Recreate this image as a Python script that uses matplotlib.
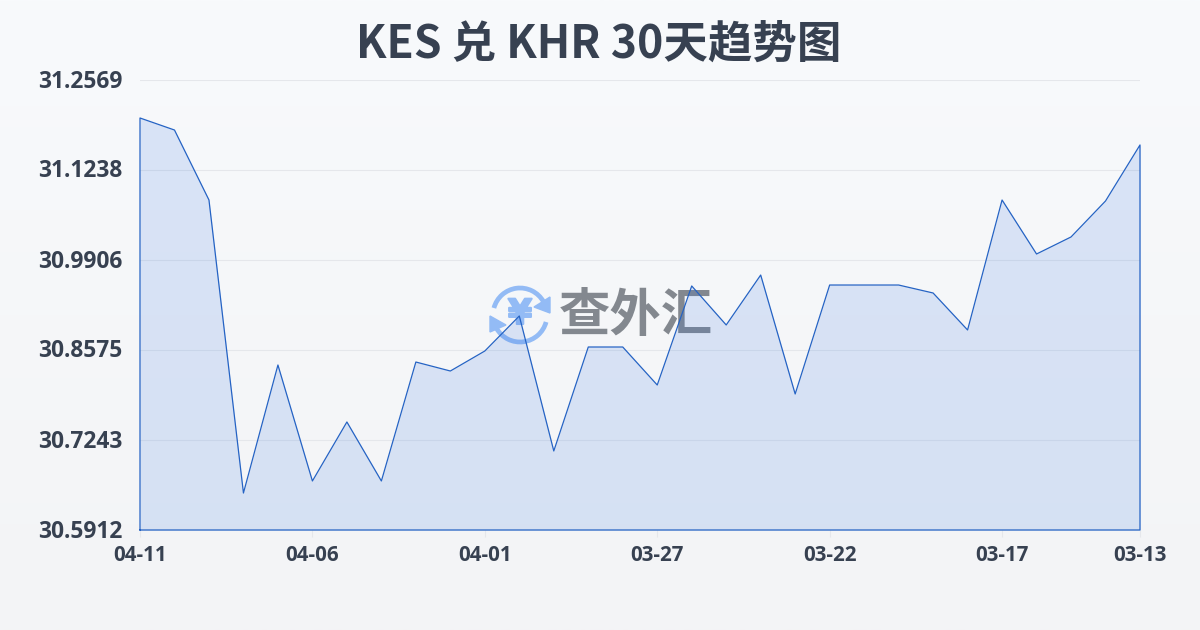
import numpy as np
import matplotlib
matplotlib.use('Agg')
from matplotlib import pyplot as plt
from matplotlib.patches import Arc, Polygon
from matplotlib.transforms import ScaledTranslation
import matplotlib.patheffects as pe

plt.rcParams['font.family'] = ['Noto Sans CJK SC', 'DejaVu Sans']

title = 'KES 兑 KHR 30天趋势图'
values = [31.2007, 31.1829, 31.0794, 30.6459, 30.8353, 30.6637, 30.7510, 30.6637,
          30.8397, 30.8264, 30.8560, 30.9078, 30.7081, 30.8619, 30.8619, 30.8057,
          30.9522, 30.8945, 30.9684, 30.7924, 30.9536, 30.9536, 30.9536, 30.9418,
          30.8871, 31.0794, 30.9995, 31.0247, 31.0779, 31.1608]
y_ticks = [30.5912, 30.7243, 30.8575, 30.9906, 31.1238, 31.2569]
x_ticks = [0, 5, 10, 15, 20, 25, 29]
x_labels = ['04-11', '04-06', '04-01', '03-27', '03-22', '03-17', '03-13']

dark = '#374151'
line_col = '#2563c4'
grid_col = '#e5e7eb'
logo_col = '#93bbf5'

fig = plt.figure(figsize=(12, 6.3), dpi=100)

# page background, pale vertical gradient
bg = fig.add_axes([0, 0, 1, 1], zorder=0)
top = np.array([248, 250, 252]) / 255
bottom = np.array([243, 244, 246]) / 255
t = np.linspace(0, 1, 256)[:, None, None]
bg.imshow(top + (bottom - top) * t, aspect='auto', extent=[0, 1200, 630, 0])
bg.set_xlim(0, 1200)
bg.set_ylim(630, 0)
bg.axis('off')

# watermark, drawn in pixel coords under the chart
bg.add_patch(Arc((520, 315), 54, 54, theta1=195, theta2=330, color=logo_col, lw=3.4))
bg.add_patch(Arc((520, 315), 54, 54, theta1=15, theta2=150, color=logo_col, lw=3.4))
bg.add_patch(Polygon([[550, 297], [550, 313], [534, 307]], color=logo_col))
bg.add_patch(Polygon([[490, 316], [490, 332], [506, 325]], color=logo_col))
bg.text(520, 314, '¥', fontsize=25, fontweight='bold', color=logo_col, ha='center', va='center',
        family='DejaVu Sans', path_effects=[pe.withStroke(linewidth=1.5, foreground=logo_col)])
bg.text(636, 315, '查外汇', fontsize=37, fontweight='bold', color='#83888f', ha='center', va='center')

ax = fig.add_axes([140 / 1200, 1 - 530 / 630, 1000 / 1200, 450 / 630], zorder=1)
ax.patch.set_alpha(0)
x = np.arange(len(values))
ax.set_xlim(0, len(values) - 1)
ax.set_ylim(y_ticks[0], y_ticks[-1])

ax.fill_between(x, values, y_ticks[0], color='#2f6fe0', alpha=0.15, lw=0, zorder=2)
ax.plot(np.r_[x[0], x, x[-1], x[0]], np.r_[y_ticks[0], values, y_ticks[0], y_ticks[0]],
        color=line_col, lw=0.9, zorder=3, clip_on=False)

ax.set_yticks(y_ticks)
ax.set_yticklabels(['%.4f' % v for v in y_ticks])
ax.set_xticks(x_ticks)
ax.set_xticklabels(x_labels)
ax.grid(True, axis='y', color=grid_col, lw=0.8, zorder=1)
ax.tick_params(axis='y', length=0, pad=12.5, labelsize=16.4, labelcolor=dark)
ax.tick_params(axis='x', length=5, width=0.8, color=grid_col, pad=5.5, labelsize=14.8, labelcolor=dark)
for lab in ax.get_xticklabels() + ax.get_yticklabels():
    lab.set_family('Open Sans')
    lab.set_fontweight('bold')
# y labels sit a little above their grid lines
up = ScaledTranslation(0, 1.5 / 100, fig.dpi_scale_trans)
for lab in ax.get_yticklabels():
    lab.set_transform(lab.get_transform() + up)
for s in ax.spines.values():
    s.set_visible(False)

fig.text(599 / 1200, 1 - 45 / 630, title, fontsize=32, fontweight='bold', color=dark,
         ha='center', va='center')

fig.savefig('out.png', dpi=100)
